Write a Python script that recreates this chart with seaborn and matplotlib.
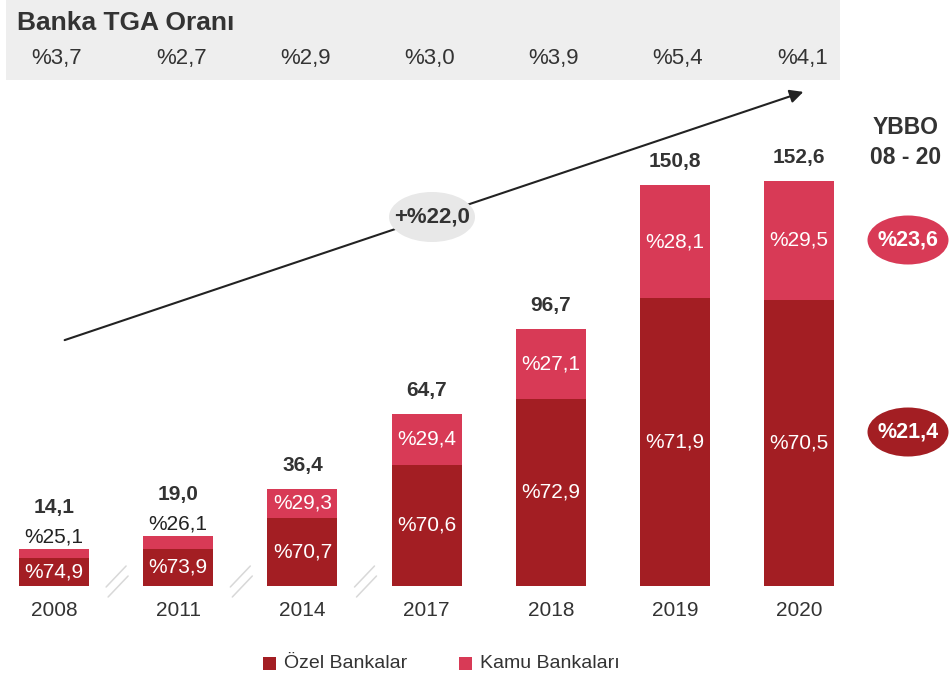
import matplotlib
matplotlib.use("Agg")
import matplotlib.pyplot as plt
import seaborn as sns
import pandas as pd
from matplotlib.patches import Rectangle, Ellipse, FancyArrowPatch
from matplotlib.lines import Line2D

# ---------------- data ----------------
years = ["2008", "2011", "2014", "2017", "2018", "2019", "2020"]
totals = [14.1, 19.0, 36.4, 64.7, 96.7, 150.8, 152.6]
ozel_share = [74.9, 73.9, 70.7, 70.6, 72.9, 71.9, 70.5]
kamu_share = [25.1, 26.1, 29.3, 29.4, 27.1, 28.1, 29.5]
tga_labels = ["%3,7", "%2,7", "%2,9", "%3,0", "%3,9", "%5,4", "%4,1"]
title = "Banka TGA Oranı"
growth_label = "+%22,0"
ybbo_title = ["YBBO", "08 - 20"]
ybbo_kamu = "%23,6"
ybbo_ozel = "%21,4"
legend_labels = ["Özel Bankalar", "Kamu Bankaları"]

ozel_vals = [t * s / 100 for t, s in zip(totals, ozel_share)]
df = pd.DataFrame({"year": years, "total": totals, "ozel": ozel_vals})

def fmt(v):
    return f"%{v:.1f}".replace(".", ",")

# ---------------- style ----------------
sns.set_theme(style="white")
plt.rcParams["font.family"] = ["Liberation Sans", "DejaVu Sans"]

C_OZEL = "#A31E23"
C_KAMU = "#D83A56"
C_TEXT = "#333333"
C_BAND = "#EEEEEE"

W, H = 949, 679
fig = plt.figure(figsize=(W / 100, H / 100), dpi=100)
ax = fig.add_axes([0, 0, 1, 1])

X0, DX = 54, 124.2        # pixel center of first bar, spacing
BASE, SC = 586, 2.656     # pixel baseline, px per unit

sns.barplot(data=df, x="year", y="total", order=years, color=C_KAMU,
            saturation=1, width=0.564, linewidth=0, ax=ax)
sns.barplot(data=df, x="year", y="ozel", order=years, color=C_OZEL,
            saturation=1, width=0.564, linewidth=0, ax=ax)

ax.set_xlim((0 - X0) / DX, (W - X0) / DX)
ax.set_ylim((BASE - H) / SC, BASE / SC)
ax.axis("off")

def fx(x):
    return x / W

def fy(y):
    return 1 - y / H

def py2v(py):
    return (BASE - py) / SC

# ---------------- bar labels ----------------
for i, (t, o, so, sk) in enumerate(zip(totals, ozel_vals, ozel_share, kamu_share)):
    ax.text(i, o / 2, fmt(so), ha="center", va="center", color="white", fontsize=15)
    if t < 30:
        ax.text(i, t + 11.5 / SC, fmt(sk), ha="center", va="center", color="#222222", fontsize=15)
        ax.text(i, t + 41 / SC, f"{t:.1f}".replace(".", ","), ha="center", va="center",
                color=C_TEXT, fontsize=15, fontweight="bold")
    else:
        ax.text(i, o + (t - o) / 2, fmt(sk), ha="center", va="center", color="white", fontsize=15)
        ax.text(i, t + 23.5 / SC, f"{t:.1f}".replace(".", ","), ha="center", va="center",
                color=C_TEXT, fontsize=15, fontweight="bold")
    ax.text(i, py2v(610), years[i], ha="center", va="center", color=C_TEXT, fontsize=15)
    ax.text(i + 3 / DX, py2v(59), tga_labels[i], ha="center", va="center", color=C_TEXT, fontsize=16)

# ---------------- header band ----------------
fig.add_artist(Rectangle((fx(6), fy(80)), fx(840) - fx(6), fy(0) - fy(80),
                         transform=fig.transFigure, facecolor=C_BAND, edgecolor="none", zorder=-5))
fig.text(fx(17), fy(23), title, ha="left", va="center", fontsize=19,
         fontweight="bold", color=C_TEXT)

# ---------------- break marks ----------------
for i in range(3):
    cx = X0 + DX * (i + 0.5)
    for dx_, dy_ in [(0, -5), (2, 5)]:
        fig.add_artist(Line2D([fx(cx - 10 + dx_), fx(cx + 10 + dx_)],
                              [fy(BASE + 6 + dy_), fy(BASE - 15 + dy_)],
                              transform=fig.transFigure, color="#D8D8D8", lw=1.1))

# ---------------- growth arrow ----------------
fig.add_artist(FancyArrowPatch((fx(62), fy(341)), (fx(806), fy(91)),
                               transform=fig.transFigure, arrowstyle="-|>",
                               mutation_scale=20, color="#222222", lw=1.5, zorder=1))
fig.add_artist(Ellipse((fx(432), fy(217)), 86 / W, 50 / H, transform=fig.transFigure,
                       facecolor="#E8E8E8", edgecolor="none", zorder=2))
fig.text(fx(432), fy(217), growth_label, ha="center", va="center", fontsize=16,
         fontweight="bold", color=C_TEXT, zorder=3)

# ---------------- YBBO ----------------
fig.text(fx(906), fy(127), ybbo_title[0], ha="center", va="center", fontsize=16.5,
         fontweight="bold", color=C_TEXT)
fig.text(fx(906), fy(157), ybbo_title[1], ha="center", va="center", fontsize=16.5,
         fontweight="bold", color=C_TEXT)
for yy, col, lab in [(240, C_KAMU, ybbo_kamu), (432, C_OZEL, ybbo_ozel)]:
    fig.add_artist(Ellipse((fx(908), fy(yy)), 81 / W, 49 / H, transform=fig.transFigure,
                           facecolor=col, edgecolor="none", zorder=2))
    fig.text(fx(908), fy(yy), lab, ha="center", va="center", fontsize=15.5,
             fontweight="bold", color="white", zorder=3)

# ---------------- legend ----------------
for x_sq, col, lab in [(263, C_OZEL, legend_labels[0]), (459, C_KAMU, legend_labels[1])]:
    fig.add_artist(Rectangle((fx(x_sq), fy(670)), 13 / W, 13 / H, transform=fig.transFigure,
                             facecolor=col, edgecolor="none"))
    fig.text(fx(x_sq + 21), fy(664), lab, ha="left", va="center", fontsize=14, color=C_TEXT)

fig.savefig("out.png", dpi=100)
